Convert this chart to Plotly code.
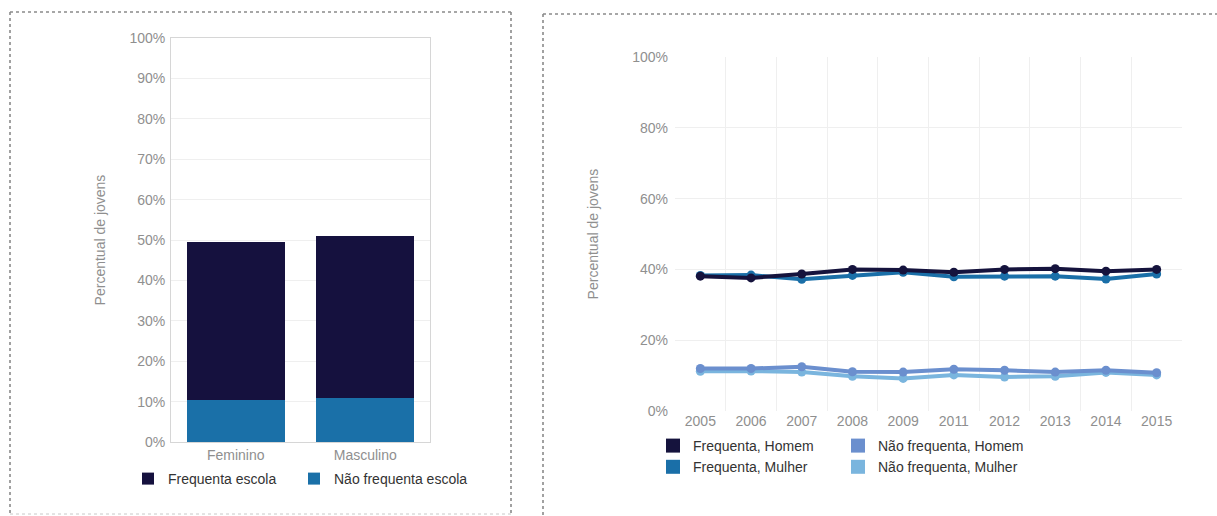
import plotly.graph_objects as go

W, H = 1217, 516

# ---- Left chart data ----
sexo = ["Feminino", "Masculino"]
nao_frequenta_escola = [10.4, 10.9]
frequenta_escola = [39.1, 40.1]

# ---- Right chart data ----
anos = ["2005", "2006", "2007", "2008", "2009", "2011", "2012", "2013", "2014", "2015"]
freq_homem = [38.1, 37.6, 38.7, 40.0, 39.8, 39.2, 40.0, 40.2, 39.5, 40.0]
freq_mulher = [38.3, 38.4, 37.2, 38.3, 39.2, 37.9, 38.1, 38.1, 37.3, 38.7]
nao_freq_homem = [12.0, 12.0, 12.5, 11.1, 11.0, 11.8, 11.5, 11.0, 11.5, 10.8]
nao_freq_mulher = [11.2, 11.3, 11.0, 9.8, 9.2, 10.2, 9.6, 9.8, 10.9, 10.2]

left_ticks = list(range(0, 101, 10))
right_ticks = list(range(0, 101, 20))

FONT = "Liberation Sans, Arial, sans-serif"
TICK_COLOR = "#8f8f8f"
LEG_COLOR = "#333333"
GRID = "#efefef"


def px_x(p):
    return p / W


def px_y(p):
    return 1 - p / H


fig = go.Figure()

# Bars (each in its own legend so the two entries can be placed freely)
fig.add_trace(go.Bar(
    x=sexo, y=nao_frequenta_escola, name="Não frequenta escola",
    marker=dict(color="#1a70a8", line=dict(width=0)),
    xaxis="x", yaxis="y", legend="legend4",
))
fig.add_trace(go.Bar(
    x=sexo, y=frequenta_escola, name="Frequenta escola",
    marker=dict(color="#15113e", line=dict(width=0)),
    xaxis="x", yaxis="y", legend="legend",
))

# Lines
line_series = [
    ("Não frequenta, Mulher", nao_freq_mulher, "#7ab5de", "legend3", 2),
    ("Não frequenta, Homem", nao_freq_homem, "#6b8fce", "legend3", 1),
    ("Frequenta, Mulher", freq_mulher, "#1a6fa8", "legend2", 2),
    ("Frequenta, Homem", freq_homem, "#15133d", "legend2", 1),
]
for name, vals, col, leg, rank in line_series:
    fig.add_trace(go.Scatter(
        x=anos, y=vals, name=name, mode="lines+markers",
        line=dict(color=col, width=4),
        marker=dict(color=col, size=9),
        xaxis="x2", yaxis="y2", showlegend=False, legendgroup=name,
    ))
    # legend entry drawn as a filled square, as in the reference
    fig.add_trace(go.Scatter(
        x=[None], y=[None], name=name, mode="markers",
        marker=dict(color=col, size=14, symbol="square"),
        xaxis="x2", yaxis="y2", legend=leg, legendrank=rank, legendgroup=name,
        hoverinfo="skip",
    ))

# Dotted panel borders
dot = dict(color="#8a8a8a", width=1.6, dash="dot")
shapes = [
    dict(type="line", xref="paper", yref="paper", x0=px_x(10), x1=px_x(511), y0=px_y(12), y1=px_y(12), line=dot),
    dict(type="line", xref="paper", yref="paper", x0=px_x(10), x1=px_x(10), y0=px_y(12), y1=px_y(516), line=dot),
    dict(type="line", xref="paper", yref="paper", x0=px_x(511), x1=px_x(511), y0=px_y(12), y1=px_y(516), line=dot),
    dict(type="line", xref="paper", yref="paper", x0=px_x(10), x1=px_x(511), y0=px_y(514), y1=px_y(514),
         line=dict(color="#c8c8c8", width=1, dash="dot")),
    dict(type="line", xref="paper", yref="paper", x0=px_x(543), x1=px_x(1217), y0=px_y(14), y1=px_y(14), line=dot),
    dict(type="line", xref="paper", yref="paper", x0=px_x(543), x1=px_x(543), y0=px_y(14), y1=px_y(516), line=dot),
]

tickfont = dict(family=FONT, size=14, color=TICK_COLOR)
titlefont = dict(family=FONT, size=14, color=TICK_COLOR)
legfont = dict(family=FONT, size=14, color=LEG_COLOR)

fig.update_layout(
    width=W, height=H,
    margin=dict(l=0, r=0, t=0, b=0),
    paper_bgcolor="white", plot_bgcolor="white",
    font=dict(family=FONT),
    barmode="stack", bargap=0.245,
    showlegend=True,
    shapes=shapes,
    xaxis=dict(
        domain=[px_x(171), px_x(430)], anchor="y",
        tickfont=tickfont, showgrid=False, ticks="", automargin=False,
        showline=True, linecolor="#d6d6d6", mirror=True, linewidth=1,
    ),
    yaxis=dict(
        domain=[px_y(442), px_y(38)], anchor="x",
        range=[0, 100], tickmode="array", tickvals=left_ticks,
        ticktext=[f"{t}%" for t in left_ticks],
        tickfont=tickfont, showgrid=True, gridcolor=GRID, zeroline=False,
        showline=True, linecolor="#d6d6d6", mirror=True, linewidth=1,
        ticks="", automargin=False, ticklabelstandoff=2,
        title=dict(text="Percentual de jovens", font=titlefont, standoff=20),
    ),
    xaxis2=dict(
        domain=[px_x(675), px_x(1182)], anchor="y2",
        type="category", range=[-0.5, len(anos) - 0.5],
        tickson="boundaries", ticks="", ticklen=0,
        tickfont=tickfont, showgrid=True, gridcolor=GRID, automargin=False,
        showline=False,
    ),
    yaxis2=dict(
        domain=[px_y(411), px_y(57)], anchor="x2",
        range=[0, 100], tickmode="array", tickvals=right_ticks,
        ticktext=[f"{t}%" for t in right_ticks],
        tickfont=tickfont, showgrid=True, gridcolor=GRID, zeroline=False,
        showline=False, ticks="", automargin=False, ticklabelstandoff=6,
        title=dict(text="Percentual de jovens", font=titlefont, standoff=30),
    ),
    legend=dict(
        orientation="h", x=px_x(128), y=px_y(479), xanchor="left", yanchor="middle",
        font=legfont, bgcolor="rgba(0,0,0,0)",
    ),
    legend4=dict(
        orientation="h", x=px_x(294), y=px_y(479), xanchor="left", yanchor="middle",
        font=legfont, bgcolor="rgba(0,0,0,0)",
    ),
    legend2=dict(
        orientation="v", x=px_x(653), y=px_y(456.5), xanchor="left", yanchor="middle",
        font=legfont, bgcolor="rgba(0,0,0,0)", tracegroupgap=0, traceorder="normal",
    ),
    legend3=dict(
        orientation="v", x=px_x(838), y=px_y(456.5), xanchor="left", yanchor="middle",
        font=legfont, bgcolor="rgba(0,0,0,0)", tracegroupgap=0, traceorder="normal",
    ),
)

fig.write_html(
    "out.html",
    config={"displayModeBar": False},
    post_script="document.body.style.margin='0px';document.body.style.overflow='hidden';",
)
